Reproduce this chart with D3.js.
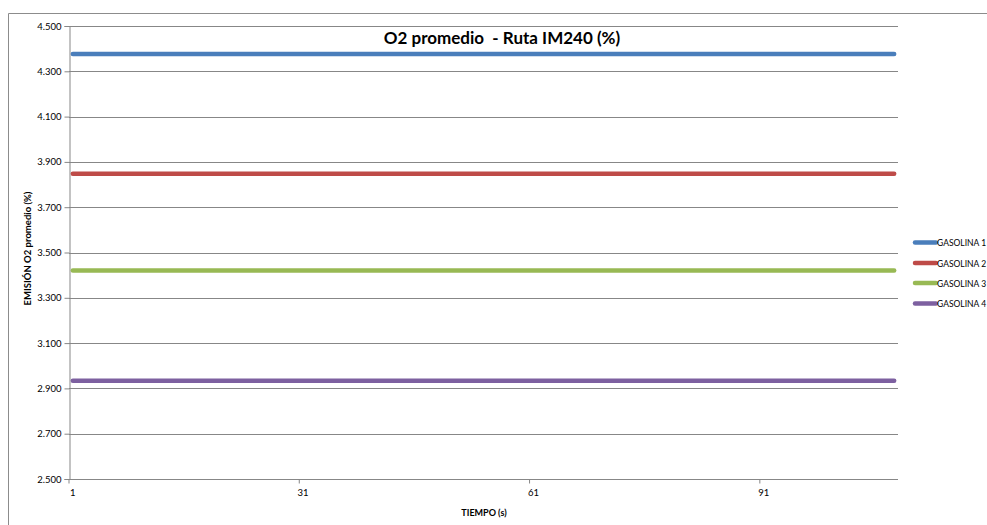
<!DOCTYPE html>
<html>
<head>
<meta charset="utf-8">
<script src="https://cdn.jsdelivr.net/npm/d3@7"></script>
<style>
  html, body { margin: 0; padding: 0; background: #fff; }
  svg { display: block; }
  text { font-family: Lato, "Open Sans", "Liberation Sans", sans-serif; fill: #000; white-space: pre; }
</style>
</head>
<body>
<svg id="chart" width="987" height="525"></svg>
<script>
// Average O2 emission along the IM240 route, one constant level per fuel
const seriesNames = ["GASOLINA 1", "GASOLINA 2", "GASOLINA 3", "GASOLINA 4"];
const seriesValues = [4.376, 3.848, 3.421, 2.934];
const seriesColors = ["#4a7ebb", "#be4b48", "#98b954", "#7d60a0"];
const sampleCount = 108; // seconds 1..108
const xTickLabels = [1, 31, 61, 91];
const yTicks = [2.5, 2.7, 2.9, 3.1, 3.3, 3.5, 3.7, 3.9, 4.1, 4.3, 4.5];

const times = d3.range(1, sampleCount + 1);

const svg = d3.select("#chart");
const plot = { left: 69, right: 898, top: 26, bottom: 479 };

// outer chart frame
svg.append("path")
  .attr("d", `M8.5,530 V13.5 H990`)
  .attr("fill", "none").attr("stroke", "#8c8c8c").attr("stroke-width", 1);

const x = d3.scaleBand().domain(times).range([plot.left, plot.right]);
const y = d3.scaleLinear().domain([2.5, 4.5]).range([plot.bottom, plot.top]);
const cx = t => x(t) + x.bandwidth() / 2;

// horizontal gridlines
svg.append("g").selectAll("line").data(yTicks).join("line")
  .attr("x1", plot.left).attr("x2", plot.right)
  .attr("y1", d => Math.round(y(d)) + 0.5).attr("y2", d => Math.round(y(d)) + 0.5)
  .attr("stroke", "#878787").attr("stroke-width", 1);

// y axis
const yAxis = svg.append("g")
  .attr("transform", `translate(${plot.left + 0.5},0)`)
  .call(d3.axisLeft(y).tickValues(yTicks).tickFormat(d3.format(".3f")).tickSize(5).tickPadding(3));
yAxis.select(".domain").attr("stroke", "#878787");
yAxis.selectAll(".tick line").attr("stroke", "#878787");
yAxis.selectAll(".tick text").attr("font-size", 9.5).attr("fill", "#000");

// x axis (category axis, labels every 30 s)
const xAxis = svg.append("g")
  .attr("transform", `translate(0,${Math.round(plot.bottom) + 0.5})`)
  .call(d3.axisBottom(x).tickValues(xTickLabels).tickSize(4).tickPadding(6));
xAxis.select(".domain").remove();
xAxis.selectAll(".tick line").attr("stroke", "#878787")
  .attr("transform", `translate(${-x.bandwidth() / 2},0)`);
xAxis.selectAll(".tick text").attr("font-size", 9.5).attr("fill", "#000");

// series lines
const line = d3.line().x(d => cx(d.t)).y(d => y(d.v));
seriesNames.forEach((name, i) => {
  const pts = times.map(t => ({ t, v: seriesValues[i] }));
  svg.append("path").datum(pts)
    .attr("d", line)
    .attr("fill", "none")
    .attr("stroke", seriesColors[i])
    .attr("stroke-width", 4.5)
    .attr("stroke-linecap", "round");
});

// title
svg.append("text")
  .attr("x", 502).attr("y", 44)
  .attr("text-anchor", "middle")
  .attr("font-size", 17).attr("font-weight", "bold")
  .text("O2 promedio  - Ruta IM240 (%)");

// axis titles
svg.append("text")
  .attr("x", 484).attr("y", 516)
  .attr("text-anchor", "middle")
  .attr("font-size", 9).attr("font-weight", "bold")
  .text("TIEMPO (s)");

svg.append("text")
  .attr("transform", `translate(31,${(plot.top + plot.bottom) / 2 - 4}) rotate(-90)`)
  .attr("text-anchor", "middle")
  .attr("font-size", 9.5).attr("font-weight", "bold")
  .text("EMISIÓN O2 promedio (%)");

// legend
const legend = svg.append("g");
const legendRows = [242.5, 263, 283, 303.5];
seriesNames.forEach((name, i) => {
  const ly = legendRows[i];
  legend.append("line")
    .attr("x1", 915).attr("x2", 936)
    .attr("y1", ly).attr("y2", ly)
    .attr("stroke", seriesColors[i]).attr("stroke-width", 4.5)
    .attr("stroke-linecap", "round");
  legend.append("text")
    .attr("x", 937).attr("y", ly + 3.5)
    .attr("font-size", 8.5)
    .text(name);
});
</script>
</body>
</html>
